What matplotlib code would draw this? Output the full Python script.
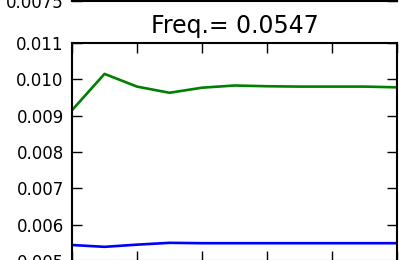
import matplotlib
matplotlib.use("Agg")
import matplotlib.pyplot as plt
import numpy as np

# values
x = np.arange(11)
green = [0.00915, 0.01015, 0.00980, 0.00963, 0.00977, 0.00983,
         0.00981, 0.00980, 0.00980, 0.00980, 0.00978]
blue = [0.00544, 0.00539, 0.00545, 0.00550, 0.00549, 0.00549,
        0.00549, 0.00549, 0.00549, 0.00549, 0.00549]
title = "Freq.= 0.0547"
yticks = [0.005, 0.006, 0.007, 0.008, 0.009, 0.010, 0.011]

plt.rcParams['font.family'] = ['DejaVu Sans']

fig = plt.figure(figsize=(3.99, 2.60), dpi=100)

def style(ax):
    for s in ax.spines.values():
        s.set_linewidth(1.5)
    ax.tick_params(direction='in', length=7, width=1, top=True, right=True,
                   labelsize=12, pad=6)

# bottom edge of the subplot above (mostly off the canvas)
top_ax = fig.add_axes([72/399, 259/260, 325/399, 0.5])
top_ax.set_ylim(0.0075, 0.01)
top_ax.set_yticks([0.0075])
top_ax.set_xticks([])
style(top_ax)

ax = fig.add_axes([72/399, -1/260, 325/399, 218/260])
ax.plot(x, green, color='g', lw=1.9)
ax.plot(x, blue, color='b', lw=1.9)
ax.set_xlim(0, 10)
ax.set_ylim(0.005, 0.011)
ax.set_yticks(yticks)
ax.set_yticklabels(['%.3f' % v for v in yticks])
ax.set_xticks([0, 2, 4, 6, 8, 10])
ax.set_xticklabels([])
ax.set_title(title, fontsize=17, pad=7)
style(ax)

fig.savefig('out.png', dpi=100)
